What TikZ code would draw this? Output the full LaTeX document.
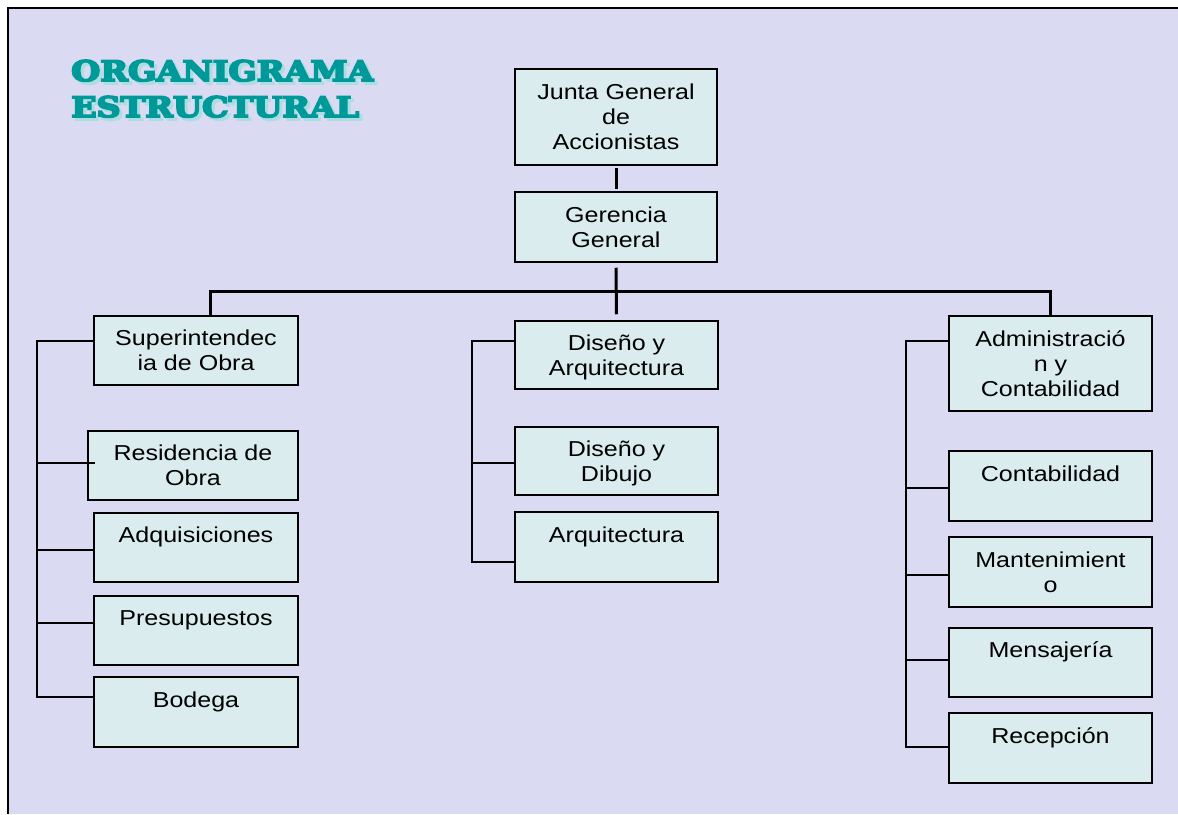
\documentclass[tikz,border=0pt]{standalone}
\usepackage{fontspec}
\usepackage{graphicx}
\setmainfont{Liberation Sans}[FakeStretch=1.16]
\newfontfamily\titlefont{DejaVu Serif Bold}[FakeBold=6]
\definecolor{bgc}{RGB}{218,218,242}
\definecolor{boxc}{RGB}{218,236,238}
\definecolor{tealmain}{RGB}{0,153,153}
\definecolor{tealsh}{RGB}{170,222,224}
\newcommand{\ls}{\rule[-4.8pt]{0pt}{25pt}}
\begin{document}
\begin{tikzpicture}[x=1pt,y=-1pt,
 orgbox/.style={draw=black, line width=1.5pt, fill=boxc, align=center, inner sep=0pt, font=\fontsize{21.6}{25}\selectfont},
 thinln/.style={line width=1.5pt},
 thickln/.style={line width=3pt},
 ttl/.style={anchor=base west, inner sep=0pt, font=\titlefont}]
\useasboundingbox (0,0) rectangle (1178,814);
\fill[bgc] (8,8) rectangle (1178,814);
\draw[line width=2pt] (8,814) -- (8,8) -- (1178,8);

% title
\node[ttl, text=tealsh] (t1s) at (74,84) {\resizebox{302pt}{21pt}{ORGANIGRAMA}};
\node[ttl, text=tealmain] (t1) at (71,81) {\resizebox{302pt}{21pt}{ORGANIGRAMA}};
\node[ttl, text=tealsh] (t2s) at (74,120) {\resizebox{288pt}{21pt}{ESTRUCTURAL}};
\node[ttl, text=tealmain] (t2) at (71,117) {\resizebox{288pt}{21pt}{ESTRUCTURAL}};

% top
\node[orgbox, minimum width=202pt, minimum height=96pt] (junta) at (616,117) {\ls Junta General\\\ls de\\\ls Accionistas};
\node[orgbox, minimum width=202pt, minimum height=70pt] (ger) at (616,227) {\ls Gerencia\\\ls General};

% left column
\node[orgbox, minimum width=204pt, minimum height=69pt] (sup) at (196,350.5) {\ls Superintendec\\\ls ia de Obra};
\node[orgbox, minimum width=210pt, minimum height=69pt] (res) at (193,465.5) {\ls Residencia de\\\ls Obra};
\node[orgbox, minimum width=204pt, minimum height=69pt] (adq) at (196,547.5) {\ls Adquisiciones\\\ls};
\node[orgbox, minimum width=204pt, minimum height=69pt] (pres) at (196,630.5) {\ls Presupuestos\\\ls};
\node[orgbox, minimum width=204pt, minimum height=70pt] (bod) at (196,712) {\ls Bodega\\\ls};

% middle column
\node[orgbox, minimum width=203pt, minimum height=68pt] (dis) at (616.5,355) {\ls Diseño y\\\ls Arquitectura};
\node[orgbox, minimum width=203pt, minimum height=68pt] (dib) at (616.5,461) {\ls Diseño y\\\ls Dibujo};
\node[orgbox, minimum width=203pt, minimum height=70pt] (arq) at (616.5,547) {\ls Arquitectura\\\ls};

% right column
\node[orgbox, minimum width=203pt, minimum height=95pt] (adm) at (1050.5,363.5) {\ls Administració\\\ls n y\\\ls Contabilidad};
\node[orgbox, minimum width=203pt, minimum height=70pt] (con) at (1050.5,486) {\ls Contabilidad\\\ls};
\node[orgbox, minimum width=203pt, minimum height=70pt] (man) at (1050.5,572) {\ls Mantenimient\\\ls o};
\node[orgbox, minimum width=203pt, minimum height=69pt] (men) at (1050.5,662.5) {\ls Mensajería\\\ls};
\node[orgbox, minimum width=203pt, minimum height=70pt] (rec) at (1050.5,748) {\ls Recepción\\\ls};

% main connectors
\draw[thickln] ([yshift=-2pt]junta.south) -- ([yshift=2pt]ger.north);
\draw[thickln] ([yshift=-5pt]ger.south) -- ([yshift=6pt]dis.north);
\coordinate (bar) at (616,291);
\draw[thickln] ([xshift=14pt]sup.north) |- (bar) -| (adm.north);

% left column connectors
\coordinate (lc) at (37,341);
\coordinate (supc) at ([yshift=9.5pt]sup.west);
\coordinate (resc) at ([yshift=2.5pt]res.west);
\coordinate (adqc) at ([yshift=-2.5pt]adq.west);
\coordinate (presc) at ([yshift=7.5pt]pres.west);
\coordinate (bodc) at ([yshift=15pt]bod.west);
\draw[thinln] (supc) -- (supc -| lc) -- (bodc -| lc) -- (bodc);
\draw[thinln] (resc -| lc) -- ([xshift=8pt]resc);
\draw[thinln] (adqc -| lc) -- (adqc);
\draw[thinln] (presc -| lc) -- (presc);

% middle column connectors
\coordinate (mc) at (472,341);
\coordinate (disc) at ([yshift=14pt]dis.west);
\coordinate (dibc) at ([yshift=-2pt]dib.west);
\coordinate (arqc) at ([yshift=-15pt]arq.west);
\draw[thinln] (disc) -- (disc -| mc) -- (arqc -| mc) -- (arqc);
\draw[thinln] (dibc -| mc) -- (dibc);

% right column connectors
\coordinate (rc) at (906,341);
\coordinate (admc) at ([yshift=22.5pt]adm.west);
\coordinate (conc) at ([yshift=-2pt]con.west);
\coordinate (manc) at ([yshift=-3pt]man.west);
\coordinate (menc) at ([yshift=2.5pt]men.west);
\coordinate (recc) at ([yshift=1pt]rec.west);
\draw[thinln] (admc) -- (admc -| rc) -- (recc -| rc) -- (recc);
\draw[thinln] (conc -| rc) -- (conc);
\draw[thinln] (manc -| rc) -- (manc);
\draw[thinln] (menc -| rc) -- (menc);
\end{tikzpicture}
\end{document}
